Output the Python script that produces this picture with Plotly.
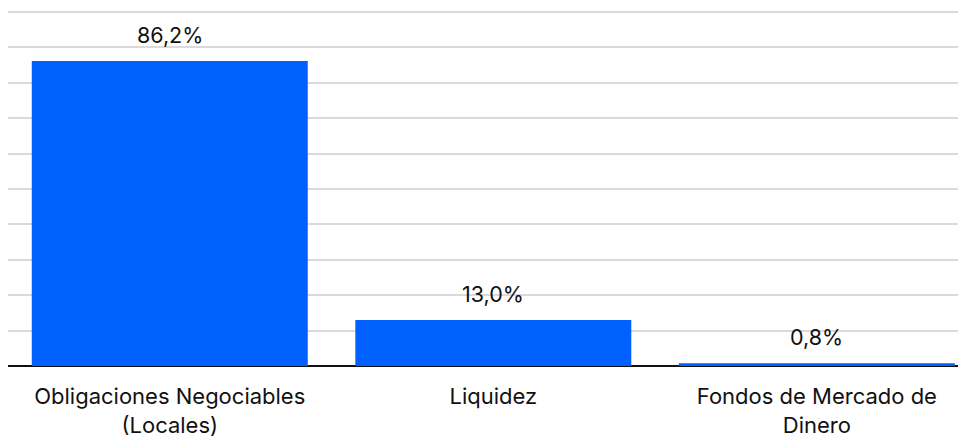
import plotly.graph_objects as go

categories = ["Obligaciones Negociables<br>(Locales)", "Liquidez", "Fondos de Mercado de<br>Dinero"]
values = [86.2, 13.0, 0.8]
labels = ["86,2%", "13,0%", "0,8%"]

FONT = "Inter, Liberation Sans, sans-serif"

fig = go.Figure(go.Bar(
    x=categories, y=values, marker_color="#0061FE", marker_line_width=0,
    width=0.853, hoverinfo="skip",
))

for c, v, t in zip(categories, values, labels):
    fig.add_annotation(x=c, y=v, text=t, showarrow=False, yanchor="bottom",
                       yshift=11, font=dict(family=FONT, size=21.5, color="#111111"))

fig.update_layout(
    width=958, height=430,
    margin=dict(l=0, r=0, t=3, b=72),
    paper_bgcolor="white", plot_bgcolor="white",
    showlegend=False,
    font=dict(family=FONT, size=22, color="#111111"),
)
fig.update_xaxes(range=[-0.5, 2.461], showgrid=False, ticks="", showline=False,
                 tickfont=dict(family=FONT, size=22, color="#111111"), ticklabelstandoff=15)
fig.update_yaxes(range=[0, 100.3], dtick=10, showticklabels=False, gridcolor="#dadada",
                 gridwidth=1.5, zeroline=True, zerolinecolor="#111111", zerolinewidth=2,
                 showline=False)

fig.write_html("out.html")
